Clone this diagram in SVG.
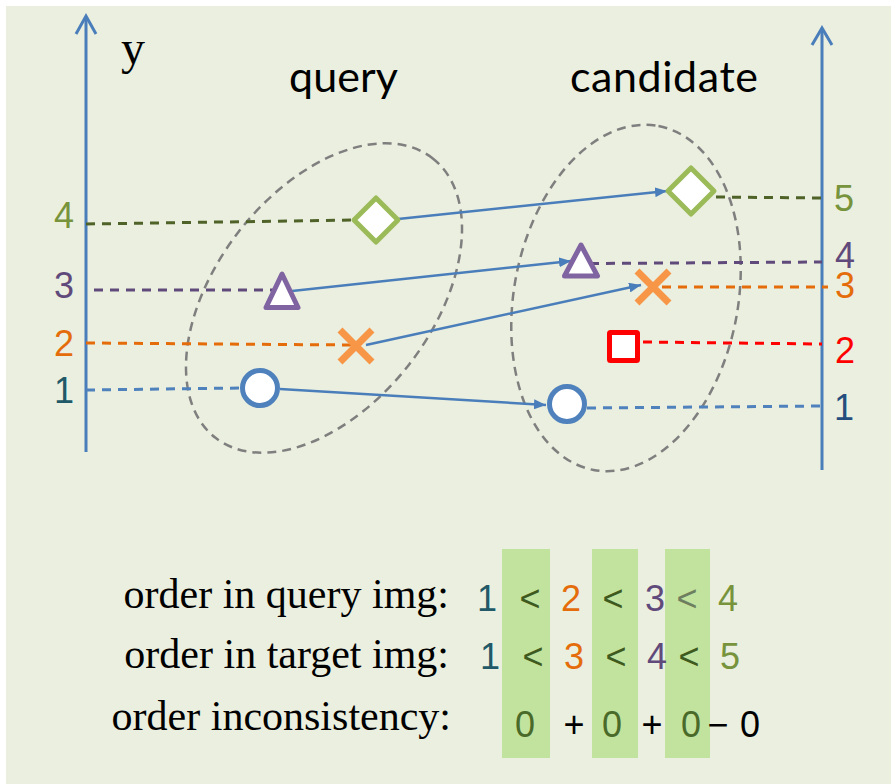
<svg xmlns="http://www.w3.org/2000/svg" width="891" height="784" viewBox="0 0 891 784">
  <style>
    .axis { stroke: #4A7EBB; stroke-width: 3; fill: none; }
    .lvl { fill: none; stroke-width: 3; stroke-dasharray: 9 7; }
    .blob { fill: none; stroke: #7F7F7F; stroke-width: 2.5; stroke-dasharray: 9 6; }
    .link { stroke: #4A7EBB; stroke-width: 2.5; fill: none; marker-end: url(#head); }
    .num { font-family: "Liberation Sans", Arial, sans-serif; font-size: 36px; text-anchor: middle; }
    .title { font-family: Lato, "Open Sans", sans-serif; font-size: 43px; fill: #000; }
    .serif { font-family: "Liberation Serif", "Times New Roman", serif; font-size: 42px; fill: #000; }
    .shape { fill: #FFFFFF; stroke-width: 5; stroke-linejoin: round; }
    .col { fill: #C2E39D; }
  </style>
  <defs>
    <marker id="head" viewBox="0 0 12 10" refX="12" refY="5" markerWidth="12" markerHeight="10" markerUnits="userSpaceOnUse" orient="auto">
      <path d="M0,0 L12,5 L0,10 Z" fill="#4A7EBB"/>
    </marker>
  </defs>

  <!-- backdrop -->
  <rect x="0" y="0" width="891" height="784" fill="#FFFFFF"/>
  <rect x="6" y="6" width="885" height="778" fill="#EBEFDF"/>

  <!-- axes -->
  <g id="axis-left">
    <line class="axis" x1="86" y1="452" x2="86" y2="17"/>
    <polyline class="axis" points="76,34 86,16 96,34"/>
    <text x="121" y="64" font-family="Liberation Serif, serif" font-size="48" fill="#000">y</text>
  </g>
  <g id="axis-right">
    <line class="axis" x1="822" y1="470" x2="822" y2="29"/>
    <polyline class="axis" points="812,45 822,28 832,45"/>
  </g>

  <!-- group outlines -->
  <g id="query-set">
    <ellipse class="blob" cx="324" cy="298" rx="177" ry="108" transform="rotate(-52.2 324 298)"/>
    <text class="title" x="289" y="92" textLength="109">query</text>
  </g>
  <g id="candidate-set">
    <ellipse class="blob" cx="626" cy="298" rx="175" ry="112" transform="rotate(-79.3 626 298)"/>
    <text class="title" x="570" y="92" textLength="188">candidate</text>
  </g>

  <!-- level guides -->
  <g id="levels">
    <line class="lvl" stroke="#4F6228" x1="86" y1="224" x2="358" y2="220"/>
    <line class="lvl" stroke="#604A7B" x1="94" y1="290" x2="274" y2="290"/>
    <line class="lvl" stroke="#E46C0A" x1="86" y1="343" x2="352" y2="345"/>
    <line class="lvl" stroke="#4F81BD" x1="86" y1="390" x2="242" y2="388"/>

    <line class="lvl" stroke="#4F6228" x1="716" y1="197" x2="822" y2="198"/>
    <line class="lvl" stroke="#604A7B" x1="590" y1="263.5" x2="822" y2="262"/>
    <line class="lvl" stroke="#E46C0A" x1="662" y1="287" x2="828" y2="287"/>
    <line class="lvl" stroke="#FF0000" x1="643" y1="342" x2="822" y2="344"/>
    <line class="lvl" stroke="#4F81BD" x1="587" y1="408" x2="822" y2="406"/>
  </g>

  <!-- level numbers -->
  <g id="left-levels">
    <text class="num" x="64" y="228" fill="#77933C">4</text>
    <text class="num" x="64" y="298" fill="#604A7B">3</text>
    <text class="num" x="64" y="356" fill="#E46C0A">2</text>
    <text class="num" x="64" y="403" fill="#215968">1</text>
  </g>
  <g id="right-levels">
    <text class="num" x="844" y="211" fill="#77933C">5</text>
    <text class="num" x="845" y="268" fill="#604A7B">4</text>
    <text class="num" x="845" y="298" fill="#E46C0A">3</text>
    <text class="num" x="845" y="363" fill="#FF0000">2</text>
    <text class="num" x="844" y="420" fill="#254E7E">1</text>
  </g>

  <!-- correspondences -->
  <g id="connectors">
    <line class="link" x1="398" y1="219" x2="667" y2="191"/>
    <line class="link" x1="292" y1="291" x2="571" y2="261"/>
    <line class="link" x1="366" y1="345" x2="641" y2="285"/>
    <line class="link" x1="280" y1="389" x2="546" y2="405"/>
  </g>

  <!-- query points -->
  <g id="q-diamond"><polygon class="shape" stroke="#9BBB59" points="376,198 398,220 376,242 354,220"/></g>
  <g id="q-triangle"><polygon class="shape" stroke="#8064A2" points="282,274 298,307.5 266,307.5"/></g>
  <g id="q-cross"><path d="M340,330 L372,362 M372,330 L340,362" stroke="#F79646" stroke-width="7" fill="none"/></g>
  <g id="q-circle"><circle class="shape" stroke="#4F81BD" cx="260" cy="388" r="17.5"/></g>

  <!-- candidate points -->
  <g id="c-diamond"><polygon class="shape" stroke="#9BBB59" points="691,168 714,191 691,214 668,191"/></g>
  <g id="c-triangle"><polygon class="shape" stroke="#8064A2" points="581,245 597.5,276 564.5,276"/></g>
  <g id="c-cross"><path d="M637,271 L669,303 M669,271 L637,303" stroke="#F79646" stroke-width="7" fill="none"/></g>
  <g id="c-square"><rect class="shape" stroke="#FF0000" x="609.5" y="332.5" width="28" height="28" rx="1"/></g>
  <g id="c-circle"><circle class="shape" stroke="#4F81BD" cx="567" cy="404" r="17.5"/></g>

  <!-- order comparison table -->
  <g id="columns">
    <rect class="col" x="502" y="549" width="48" height="209"/>
    <rect class="col" x="592" y="549" width="46" height="209"/>
    <rect class="col" x="665" y="549" width="45" height="209"/>
  </g>
  <g id="row-query">
    <text class="serif" x="449" y="608" text-anchor="end">order in query img:</text>
    <text class="num" x="487" y="611" fill="#215968">1</text>
    <text class="num" x="530" y="611" fill="#3E5A1E">&lt;</text>
    <text class="num" x="571" y="611" fill="#E46C0A">2</text>
    <text class="num" x="613" y="611" fill="#3E5A1E">&lt;</text>
    <text class="num" x="655" y="611" fill="#604A7B">3</text>
    <text class="num" x="687" y="611" fill="#6E7F60">&lt;</text>
    <text class="num" x="728" y="611" fill="#77933C">4</text>
  </g>
  <g id="row-target">
    <text class="serif" x="449" y="668" text-anchor="end">order in target img:</text>
    <text class="num" x="490" y="669" fill="#215968">1</text>
    <text class="num" x="533" y="669" fill="#3E5A1E">&lt;</text>
    <text class="num" x="574" y="669" fill="#E46C0A">3</text>
    <text class="num" x="616" y="669" fill="#3E5A1E">&lt;</text>
    <text class="num" x="657" y="669" fill="#604A7B">4</text>
    <text class="num" x="689" y="669" fill="#3E5A1E">&lt;</text>
    <text class="num" x="730" y="669" fill="#77933C">5</text>
  </g>
  <g id="row-inconsistency">
    <text class="serif" x="451" y="730" text-anchor="end">order inconsistency:</text>
    <text class="num" x="525" y="737" fill="#4A6A2A">0</text>
    <text class="num" x="574" y="737" fill="#000">+</text>
    <text class="num" x="612" y="737" fill="#4A6A2A">0</text>
    <text class="num" x="652" y="737" fill="#000">+</text>
    <text class="num" x="691" y="737" fill="#4A6A2A">0</text>
    <text class="num" x="718" y="737" fill="#000">−</text>
    <text class="num" x="750" y="737" fill="#000">0</text>
  </g>
</svg>
